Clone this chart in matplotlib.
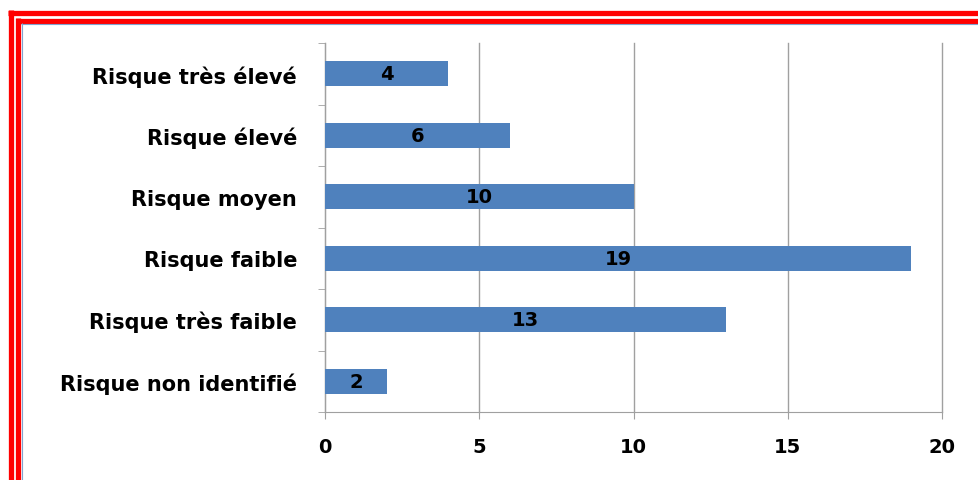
import matplotlib.pyplot as plt
from matplotlib.lines import Line2D

categories = ["Risque non identifié", "Risque très faible", "Risque faible",
              "Risque moyen", "Risque élevé", "Risque très élevé"]
values = [2, 13, 19, 10, 6, 4]
x_ticks = [0, 5, 10, 15, 20]

W, H = 979, 481
fig = plt.figure(figsize=(W / 100, H / 100), dpi=100)
plt.rcParams['font.family'] = ['DejaVu Sans']
FS = 15

ax = fig.add_axes([325 / W, 1 - 413 / H, (942 - 325) / W, (413 - 44) / H])

pos = list(range(len(categories)))
ax.barh(pos, values, height=0.4, color="#4F81BD", zorder=3)
for p, v in zip(pos, values):
    ax.text(v / 2, p, str(v), ha="center", va="center", fontsize=FS - 1,
            fontweight="bold", color="black", zorder=4)

ax.set_xlim(0, 20)
ax.set_ylim(-0.5, len(categories) - 0.5)
ax.set_xticks(x_ticks)
ax.set_xticklabels([str(t) for t in x_ticks], fontsize=FS - 1, fontweight="bold")
ax.set_yticks(pos)
ax.set_yticklabels(categories, fontsize=FS, fontweight="bold")
ax.set_yticks([p - 0.5 for p in pos] + [len(pos) - 0.5], minor=True)
ax.tick_params(axis="y", which="major", length=0, pad=20)
ax.tick_params(axis="y", which="minor", length=5, color="#a0a0a0")
ax.tick_params(axis="x", length=5, color="#a0a0a0", pad=13)
ax.grid(axis="x", color="#a0a0a0", linewidth=1, zorder=0)
for gl in ax.get_xgridlines():
    gl.set_clip_on(False)
for s in ["top", "right"]:
    ax.spines[s].set_visible(False)
for s in ["left", "bottom"]:
    ax.spines[s].set_color("#a0a0a0")

# double red frame with thin blue inner line
def fig_line(x0, y0, x1, y1, color, lw):
    fig.add_artist(Line2D([x0 / W, x1 / W], [1 - y0 / H, 1 - y1 / H],
                          color=color, linewidth=lw, solid_capstyle="butt",
                          transform=fig.transFigure))

fig_line(8, 13.5, W, 13.5, "#ff0000", 3.8)
fig_line(10.5, 11, 10.5, H, "#ff0000", 3.8)
fig_line(16, 21.5, W, 21.5, "#ff0000", 3.8)
fig_line(18.5, 19, 18.5, H, "#ff0000", 3.8)
fig_line(21, 24.5, W, 24.5, "#7fa3d0", 0.8)
fig_line(22, 24, 22, H, "#7fa3d0", 0.8)

fig.savefig("out.png", dpi=100)
